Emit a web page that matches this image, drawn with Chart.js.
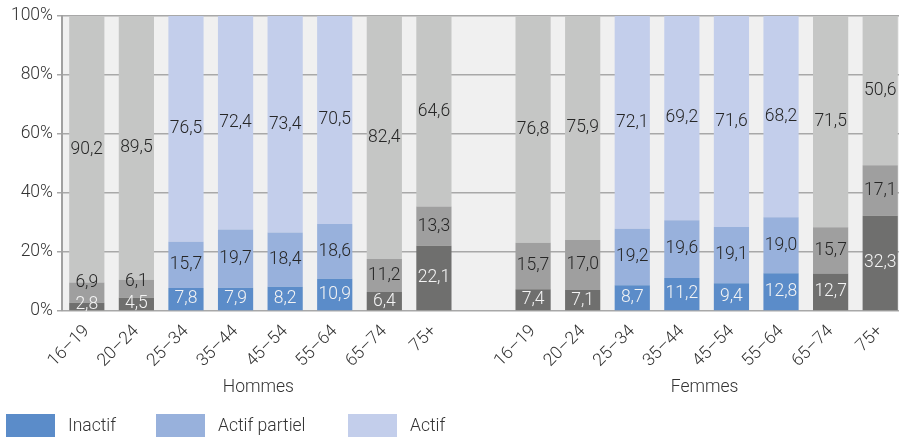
<!DOCTYPE html>
<html lang="fr">
<head>
<meta charset="utf-8">
<script src="https://cdn.jsdelivr.net/npm/chart.js@4"></script>
<style>
  html, body { margin: 0; padding: 0; background: #fff; overflow: hidden; }
  #wrap { width: 905px; height: 437px; position: relative; }
</style>
</head>
<body>
<div id="wrap"><canvas id="activityChart"></canvas></div>
<script>
// age groups, repeated for both sexes with an empty slot between them
const ageGroups = ['16–19', '20–24', '25–34', '35–44', '45–54', '55–64', '65–74', '75+'];
const groupNames = ['Hommes', 'Femmes'];
const seriesNames = ['Inactif', 'Actif partiel', 'Actif'];
const yTicks = [0, 20, 40, 60, 80, 100];

const hommesInactif = [2.8, 4.5, 7.8, 7.9, 8.2, 10.9, 6.4, 22.1];
const hommesPartiel = [6.9, 6.1, 15.7, 19.7, 18.4, 18.6, 11.2, 13.3];
const hommesActif = [90.2, 89.5, 76.5, 72.4, 73.4, 70.5, 82.4, 64.6];

const femmesInactif = [7.4, 7.1, 8.7, 11.2, 9.4, 12.8, 12.7, 32.3];
const femmesPartiel = [15.7, 17.0, 19.2, 19.6, 19.1, 19.0, 15.7, 17.1];
const femmesActif = [76.8, 75.9, 72.1, 69.2, 71.6, 68.2, 71.5, 50.6];

const blueShades = ['#5b8cc9', '#98b1dc', '#c3ceeb'];
const greyShades = ['#6f6f6e', '#9f9f9f', '#c5c6c5'];
const coreAges = ['25–34', '35–44', '45–54', '55–64'];

const labels = [...ageGroups, '', ...ageGroups];
const joinGroups = (a, b) => [...a, null, ...b];
const seriesData = [
    joinGroups(hommesInactif, femmesInactif),
    joinGroups(hommesPartiel, femmesPartiel),
    joinGroups(hommesActif, femmesActif)
];

const datasets = seriesData.map((data, s) => ({
    label: seriesNames[s],
    data: data,
    backgroundColor: labels.map(l => coreAges.includes(l) ? blueShades[s] : greyShades[s]),
    borderWidth: 0,
    categoryPercentage: 1,
    barPercentage: 0.71
}));

const FONT = '300 17.5px Roboto, "DejaVu Sans", sans-serif';
const fmt = v => v.toFixed(1).replace('.', ',');

// grey plot background
const plotBackground = {
    id: 'plotBackground',
    beforeDraw(chart) {
        const { ctx, chartArea: a } = chart;
        ctx.save();
        ctx.fillStyle = '#f0f0f0';
        ctx.fillRect(a.left, a.top, a.right - a.left, a.bottom - a.top);
        ctx.restore();
    }
};

// value labels inside segments, pushed upwards when segments are too thin
const segmentLabels = {
    id: 'segmentLabels',
    afterDatasetsDraw(chart) {
        const { ctx } = chart;
        ctx.save();
        ctx.font = FONT;
        ctx.textAlign = 'center';
        ctx.textBaseline = 'middle';
        labels.forEach((lab, i) => {
            if (!lab) return;
            let prev = null;
            chart.data.datasets.forEach((ds, s) => {
                const bar = chart.getDatasetMeta(s).data[i];
                const v = ds.data[i];
                if (v == null) return;
                let y = (bar.y + bar.base) / 2;
                if (s === 0) y = Math.min(y, bar.base - 6);
                if (prev !== null) y = Math.min(y, prev - 22);
                prev = y;
                ctx.fillStyle = s === 0 ? '#f4f4f4' : '#262626';
                ctx.fillText(fmt(v), bar.x, y);
            });
        });
        ctx.restore();
    }
};

// group names under the age ticks, and the legend
const groupsAndLegend = {
    id: 'groupsAndLegend',
    afterDraw(chart) {
        const { ctx } = chart;
        const x = chart.scales.x;
        ctx.save();
        ctx.font = FONT;
        ctx.fillStyle = '#333';
        ctx.textBaseline = 'middle';
        ctx.textAlign = 'center';
        groupNames.forEach((g, k) => {
            const first = k * (ageGroups.length + 1);
            const cx = (x.getPixelForValue(first) + x.getPixelForValue(first + ageGroups.length - 1)) / 2;
            ctx.fillText(g, cx - 2, 388);
        });
        ctx.textAlign = 'left';
        const legendX = [6, 156, 348];
        seriesNames.forEach((n, s) => {
            ctx.fillStyle = blueShades[s];
            ctx.fillRect(legendX[s], 414, 49, 23);
            ctx.fillStyle = '#333';
            ctx.fillText(n, legendX[s] + 62, 427);
        });
        ctx.restore();
    }
};

new Chart(document.getElementById('activityChart'), {
    type: 'bar',
    data: { labels: labels, datasets: datasets },
    options: {
        responsive: true,
        maintainAspectRatio: false,
        animation: false,
        layout: { padding: { top: 16, left: 0, right: 0, bottom: 0 } },
        plugins: {
            legend: { display: false },
            tooltip: { enabled: false }
        },
        scales: {
            x: {
                stacked: true,
                offset: true,
                grid: { display: false },
                border: { display: false },
                afterFit(scale) { scale.height = 126; },
                ticks: {
                    autoSkip: false,
                    maxRotation: 45,
                    minRotation: 45,
                    color: '#333',
                    padding: 2,
                    font: { family: 'Roboto', size: 17.5, weight: 300 }
                }
            },
            y: {
                stacked: true,
                min: 0,
                max: 100,
                afterFit(scale) { scale.width = 62; },
                afterBuildTicks(scale) { scale.ticks = yTicks.map(v => ({ value: v })); },
                grid: { color: '#a8a8a8', lineWidth: 1.5, tickLength: 5 },
                border: { color: '#a0a0a0', width: 2 },
                ticks: {
                    color: '#333',
                    padding: 4,
                    font: { family: 'Roboto', size: 17.5, weight: 300 },
                    callback: v => v + '%'
                }
            }
        }
    },
    plugins: [plotBackground, segmentLabels, groupsAndLegend]
});
</script>
</body>
</html>
